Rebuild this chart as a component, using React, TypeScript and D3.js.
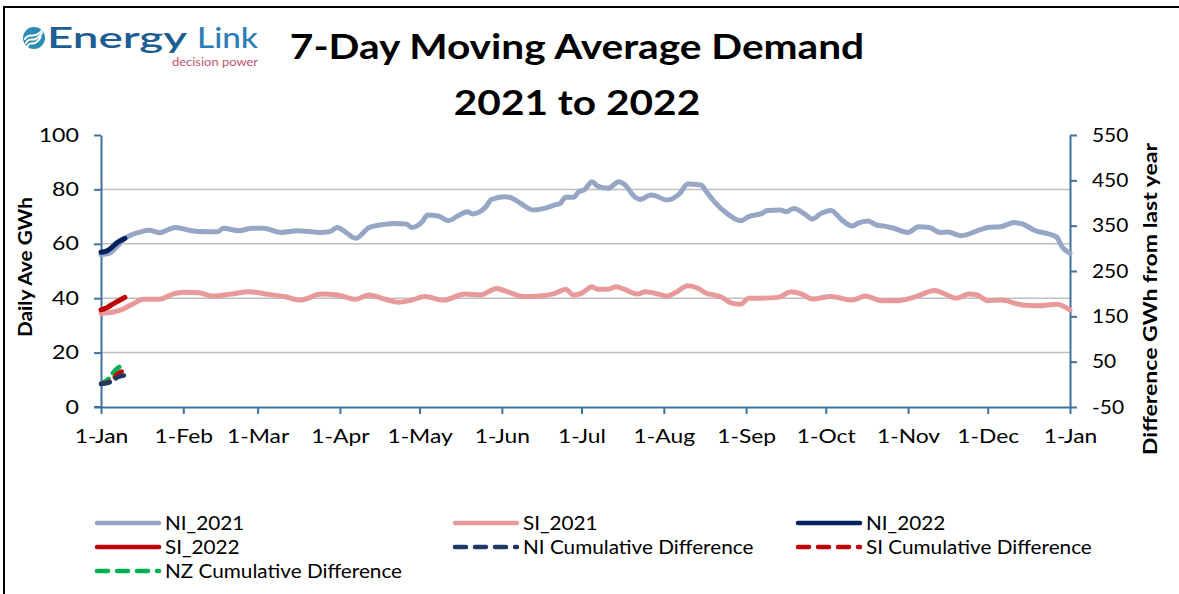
import React, { useEffect, useRef } from "react";
import * as d3 from "d3";

// day of year (0 = 1 Jan) and GWh
const ni2021: [number, number][] = [
  [0, 56], [3, 56.5], [6, 59], [9, 62], [12, 63.5], [15, 64.4], [18, 65], [22, 64.1], [28, 66],
  [34, 64.8], [40, 64.4], [44, 64.4], [46, 65.7], [52, 64.8], [57, 65.7], [61, 65.7], [68, 64.2],
  [74, 64.8], [82, 64.2], [86, 64.4], [89, 66], [92, 64.4], [96, 62], [101, 66], [105, 66.9],
  [110, 67.5], [115, 67.3], [117, 66], [121, 68.1], [123, 70.6], [127, 70.2], [131, 68.5],
  [134, 70], [138, 71.8], [140, 71], [145, 73.6], [147, 76.3], [152, 77.3], [155, 76.7],
  [158, 74.9], [163, 72.4], [167, 73], [171, 74.3], [173, 74.9], [175, 77.1], [178, 77.1],
  [180, 79.2], [182, 79.8], [185, 82.8], [187, 81.2], [191, 80.4], [195, 82.8], [197, 82],
  [201, 77.3], [203, 76.3], [207, 77.9], [209, 77.6], [213, 76.1], [218, 78.5], [221, 82],
  [226, 81.6], [228, 79.2], [231, 75.5], [236, 71], [241, 68.5], [244, 70], [249, 71.2],
  [251, 72.2], [256, 72.4], [258, 71.8], [261, 73], [265, 71], [268, 69.1], [271, 71],
  [275, 72.2], [279, 68.8], [283, 66.5], [285, 67.5], [289, 68.4], [292, 66.9], [295, 66.5],
  [298, 65.9], [304, 64.2], [308, 66.3], [312, 66], [316, 64.2], [319, 64.3], [324, 63],
  [331, 65.1], [334, 66], [339, 66.3], [344, 67.8], [347, 67.3], [352, 64.8], [357, 63.6],
  [360, 62.4], [362, 58.9], [365, 56.5],
];

const si2021: [number, number][] = [
  [0, 34.4], [5, 35], [8, 35.9], [12, 37.9], [16, 39.6], [22, 39.6], [27, 41.5], [31, 42.2],
  [37, 42], [42, 40.8], [49, 41.5], [56, 42.4], [63, 41.4], [69, 40.6], [75, 39.3], [83, 41.5],
  [89, 41.2], [96, 39.6], [101, 41.2], [107, 39.6], [112, 38.5], [117, 39.3], [122, 40.6],
  [129, 39.3], [137, 41.5], [143, 41.2], [149, 43.6], [153, 42.4], [159, 40.6], [165, 40.8],
  [171, 41.8], [175, 43.3], [178, 41.2], [181, 41.8], [185, 44.2], [187, 43.3], [191, 43.3],
  [194, 44.2], [197, 43.3], [202, 41.5], [205, 42.4], [210, 41.5], [213, 40.8], [217, 42.4],
  [221, 44.6], [225, 43.6], [228, 41.8], [231, 41.2], [234, 40.3], [237, 38.4], [241, 37.8],
  [244, 40], [249, 40], [255, 40.3], [260, 42.4], [264, 41.5], [268, 39.7], [275, 40.6],
  [283, 39.3], [288, 40.8], [294, 39.1], [300, 39.1], [307, 40.6], [314, 42.8], [318, 41.5],
  [322, 40], [327, 41.5], [330, 41.2], [334, 39.1], [339, 39.3], [347, 37.5], [353, 37.2],
  [360, 37.8], [365, 35.7],
];

const ni2022: [number, number][] = [[0, 56.9], [2, 57.3], [4, 58.6], [6, 60.4], [9, 62]];
const si2022: [number, number][] = [[0, 35.7], [2, 36.4], [4, 37.6], [6, 38.7], [9, 40.3]];

// cumulative difference, GWh (right axis)
const niCum: [number, number][] = [[0, 0.5], [4, 6], [6, 15], [9, 20]];
const siCum: [number, number][] = [[0, 0.7], [4, 8], [6, 22], [9, 30]];
const nzCum: [number, number][] = [[0, 2], [3, 13], [5, 29], [8, 42]];

const leftTicks = [0, 20, 40, 60, 80, 100];
const gridValues = [20, 40, 60, 80];
const rightTicks = [-50, 50, 150, 250, 350, 450, 550];

const FONT = "Lato, 'Open Sans', sans-serif";
const AXIS = "#41719C";

// widen text to mimic the wider Calibri-like lettering of the original
const stretch = (sel: any, k: number) => {
  sel.each(function (this: any) {
    const len = this.getComputedTextLength();
    d3.select(this).attr("textLength", len * k).attr("lengthAdjust", "spacingAndGlyphs");
  });
};

const App = () => {
  const svgRef = useRef<SVGSVGElement>(null);

  useEffect(() => {
    drawChart();
  }, []);

  const drawChart = () => {
    const svg = d3.select(svgRef.current);
    svg.selectAll("*").remove();

    const left = 101, right = 1070, top = 135, bottom = 407;
    const t0 = Date.UTC(2021, 0, 1);
    const t1 = Date.UTC(2022, 0, 1);
    const toDate = (d: number) => new Date(t0 + d * 864e5);

    const x = d3.scaleUtc().domain([t0, t1]).range([left, right]);
    const yL = d3.scaleLinear().domain([0, 100]).range([bottom, top]);
    const yR = d3.scaleLinear().domain([-50, 550]).range([bottom, top]);

    // outer frame
    svg.append("rect").attr("x", 4).attr("y", 7).attr("width", 1200).attr("height", 600)
      .attr("fill", "white").attr("stroke", "#000").attr("stroke-width", 2);

    // logo
    const logo = svg.append("g");
    logo.append("circle").attr("cx", 34).attr("cy", 38).attr("r", 11).attr("fill", "#2B8CB3");
    [-4, 0, 4].forEach((o) => {
      logo.append("path")
        .attr("d", `M${26 + o * 0.3},${43 + o} C${30},${35 + o} ${34},${45 + o} ${42 - o * 0.3},${33 + o}`)
        .attr("fill", "none").attr("stroke", "white").attr("stroke-width", 2).attr("stroke-linecap", "round");
    });
    logo.append("text").attr("x", 47).attr("y", 48).attr("font-family", FONT).attr("font-size", 28)
      .attr("font-weight", 600).attr("fill", "#1E5D91").attr("textLength", 140)
      .attr("lengthAdjust", "spacingAndGlyphs").text("Energy");
    logo.append("text").attr("x", 197).attr("y", 48).attr("font-family", FONT).attr("font-size", 28)
      .attr("font-weight", 500).attr("fill", "#2D7DB6").attr("textLength", 61)
      .attr("lengthAdjust", "spacingAndGlyphs").text("Link");
    logo.append("text").attr("x", 172).attr("y", 66).attr("font-family", FONT).attr("font-size", 11)
      .attr("fill", "#C4506C").attr("textLength", 86).attr("lengthAdjust", "spacingAndGlyphs")
      .text("decision power");

    // title
    const title = svg.append("text").attr("text-anchor", "middle").attr("font-family", FONT)
      .attr("font-weight", 700).attr("font-size", 35).attr("fill", "#000");
    title.append("tspan").attr("x", 577).attr("y", 59).text("7-Day Moving Average Demand");
    title.append("tspan").attr("x", 577).attr("y", 115).text("2021 to 2022");
    stretch(title.selectAll("tspan"), 1.16);

    // gridlines
    svg.append("g").selectAll("line").data(gridValues).enter().append("line")
      .attr("x1", left).attr("x2", right).attr("y1", (d) => yL(d)).attr("y2", (d) => yL(d))
      .attr("stroke", "#BFBFBF").attr("stroke-width", 1.5);

    const styleAxis = (g: any) => {
      g.select(".domain").attr("stroke", AXIS).attr("stroke-width", 2);
      g.selectAll(".tick line").attr("stroke", AXIS).attr("stroke-width", 2);
      g.selectAll(".tick text").attr("font-family", FONT).attr("font-size", 19).attr("fill", "#000");
    };

    const gl = svg.append("g").attr("transform", `translate(${left},0)`)
      .call(d3.axisLeft(yL).tickValues(leftTicks).tickSize(7).tickSizeOuter(0).tickPadding(15))
      .call(styleAxis);

    const gr = svg.append("g").attr("transform", `translate(${right},0)`)
      .call(d3.axisRight(yR).tickValues(rightTicks).tickSize(7).tickSizeOuter(0).tickPadding(15)
        .tickFormat((d: any) => String(d)))
      .call(styleAxis);

    const months = d3.utcMonth.range(new Date(t0), new Date(t1 + 864e5));
    const gx = svg.append("g").attr("transform", `translate(0,${bottom})`)
      .call(d3.axisBottom(x).tickValues(months).tickSize(7).tickSizeOuter(0).tickPadding(16)
        .tickFormat((d: any) => d3.utcFormat("%-d-%b")(d)))
      .call(styleAxis);
    stretch(gl.selectAll(".tick text"), 1.22);
    stretch(gr.selectAll(".tick text"), 1.1);
    stretch(gx.selectAll(".tick text"), 1.2);
    // left end tick crossing
    svg.append("line").attr("x1", left - 7).attr("x2", left).attr("y1", bottom).attr("y2", bottom)
      .attr("stroke", AXIS).attr("stroke-width", 2);

    // axis titles
    svg.append("text").attr("transform", `translate(32,267) rotate(-90)`).attr("text-anchor", "middle")
      .attr("font-family", FONT).attr("font-weight", 700).attr("font-size", 19)
      .attr("textLength", 140).attr("lengthAdjust", "spacingAndGlyphs").text("Daily Ave GWh");
    svg.append("text").attr("transform", `translate(1157,299) rotate(-90)`).attr("text-anchor", "middle")
      .attr("font-family", FONT).attr("font-weight", 700).attr("font-size", 19)
      .attr("textLength", 312).attr("lengthAdjust", "spacingAndGlyphs")
      .text("Difference GWh from last year");

    const lineL = d3.line<[number, number]>().x((d) => x(toDate(d[0]))).y((d) => yL(d[1]))
      .curve(d3.curveMonotoneX);
    const lineR = d3.line<[number, number]>().x((d) => x(toDate(d[0]))).y((d) => yR(d[1]))
      .curve(d3.curveMonotoneX);

    const series = [
      { data: ni2021, line: lineL, color: "#97A6C4", dash: null, width: 5 },
      { data: si2021, line: lineL, color: "#E8999A", dash: null, width: 5 },
      { data: ni2022, line: lineL, color: "#002060", dash: null, width: 5 },
      { data: si2022, line: lineL, color: "#C00000", dash: null, width: 5 },
      { data: nzCum, line: lineR, color: "#00B050", dash: "9,7", width: 4.5 },
      { data: siCum, line: lineR, color: "#C00000", dash: "9,7", width: 4.5 },
      { data: niCum, line: lineR, color: "#1F3864", dash: "9,7", width: 4.5 },
    ];
    series.forEach((s) => {
      svg.append("path").attr("d", s.line(s.data)).attr("fill", "none").attr("stroke", s.color)
        .attr("stroke-width", s.width).attr("stroke-linecap", "round").attr("stroke-linejoin", "round")
        .attr("stroke-dasharray", s.dash);
    });

    // legend
    const legendItems = [
      { label: "NI_2021", color: "#97A6C4", dash: null },
      { label: "SI_2021", color: "#E8999A", dash: null },
      { label: "NI_2022", color: "#002060", dash: null },
      { label: "SI_2022", color: "#C00000", dash: null },
      { label: "NI Cumulative Difference", color: "#1F3864", dash: "11,9" },
      { label: "SI Cumulative Difference", color: "#C00000", dash: "11,9" },
      { label: "NZ Cumulative Difference", color: "#00B050", dash: "11,9" },
    ];
    const colX = [97, 455, 798];
    const rowY = [523, 547, 571];
    const legend = svg.append("g").selectAll("g").data(legendItems).enter().append("g")
      .attr("transform", (d, i) => `translate(${colX[i % 3]},${rowY[Math.floor(i / 3)]})`);
    legend.append("line").attr("x1", 0).attr("x2", 62).attr("y1", 0).attr("y2", 0)
      .attr("stroke", (d) => d.color).attr("stroke-width", 4.5).attr("stroke-linecap", "round")
      .attr("stroke-dasharray", (d) => d.dash);
    const lt = legend.append("text").attr("x", 68).attr("y", 6.5).attr("font-family", FONT)
      .attr("font-size", 18.5).attr("fill", "#000").text((d) => d.label);
    stretch(lt, 1.12);
  };

  return (
    <div style={{ position: "absolute", left: 0, top: 0, width: 1179, height: 594, overflow: "hidden" }}>
      <svg ref={svgRef} width={1179} height={594} style={{ display: "block" }}></svg>
    </div>
  );
};

export default App;
